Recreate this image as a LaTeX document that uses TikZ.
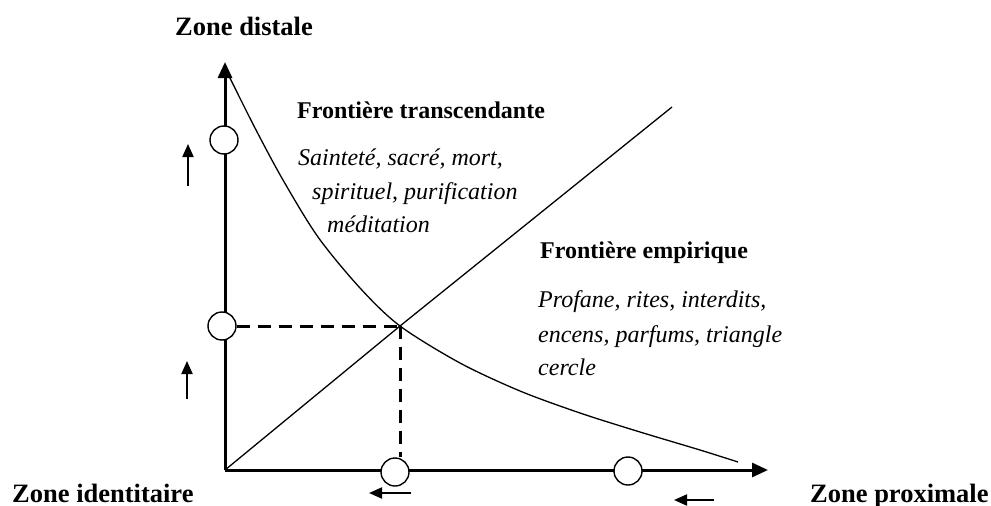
\documentclass[tikz,border=0pt]{standalone}
\usepackage{fontspec}
\setmainfont{Liberation Serif}
\usetikzlibrary{arrows.meta}
\begin{document}
\begin{tikzpicture}[x=1pt,y=-1pt,
  zonelbl/.style={anchor=base west,inner sep=0pt,font=\fontsize{26.5}{30}\selectfont\bfseries},
  frontlbl/.style={anchor=base west,inner sep=0pt,font=\fontsize{24}{28}\selectfont\bfseries},
  itlbl/.style={anchor=base west,inner sep=0pt,font=\fontsize{24}{28}\selectfont\itshape},
  axisline/.style={line width=3pt,-{Triangle[length=16pt,width=14pt]}},
  thinline/.style={line width=1.3pt},
  guide/.style={line width=3pt,dash pattern=on 13pt off 8pt},
  marker/.style={circle,draw,fill=white,line width=1.4pt,minimum size=28pt,inner sep=0pt},
  smallarrow/.style={line width=2pt,-{Triangle[length=13pt,width=11pt]}}]
\useasboundingbox (0,0) rectangle (991,506);
\coordinate (O) at (225,470);
\coordinate (Ytip) at (225,62);
\coordinate (Xtip) at (768,470);
\coordinate (I) at (400,326);
\coordinate (Dend) at (672,107);
% diagonal and curve
\draw[thinline] (O) -- (I) -- (Dend);
\draw[thinline] plot[smooth] coordinates {(227,72) (255,128) (283,180) (318,237) (360,288) (400,326) (460,363) (520,391) (580,413) (640,432) (700,450) (738,462)};
% axes
\draw[axisline] (O) -- (Ytip);
\draw[axisline] (O) -- (Xtip);
% markers
\node[marker] (c1) at (224,140) {};
\node[marker] (c2) at (222,326) {};
\node[marker] (c3) at (395,472) {};
\node[marker] (c4) at (628,471) {};
% dashed guides
\draw[guide] (c2.east) -- (I);
\draw[guide] (I) -- (I |- c3.north);
% small arrows
\coordinate (a1s) at (188,186); \coordinate (a1e) at (188,144);
\coordinate (a2s) at (187,399); \coordinate (a2e) at (187,361);
\coordinate (a3s) at (411,493); \coordinate (a3e) at (369,493);
\coordinate (a4s) at (714,500); \coordinate (a4e) at (674,500);
\draw[smallarrow] (a1s) -- (a1e);
\draw[smallarrow] (a2s) -- (a2e);
\draw[smallarrow] (a3s) -- (a3e);
\draw[smallarrow] (a4s) -- (a4e);
% labels
\node[zonelbl] (zd) at (175,35) {Zone distale};
\node[zonelbl] (zi) at (12,502) {Zone identitaire};
\node[zonelbl] (zp) at (810,502) {Zone proximale};
\node[frontlbl] (ft) at (297,118) {Frontière transcendante};
\node[itlbl] (t1) at (298,165) {Sainteté, sacré, mort,};
\node[itlbl] (t2) at (312,199) {spirituel, purification};
\node[itlbl] (t3) at (327,232) {méditation};
\node[frontlbl] (fe) at (540,258) {Frontière empirique};
\node[itlbl] (e1) at (538,307) {Profane, rites, interdits,};
\node[itlbl] (e2) at (538,342) {encens, parfums, triangle};
\node[itlbl] (e3) at (538,375) {cercle};
\end{tikzpicture}
\end{document}
